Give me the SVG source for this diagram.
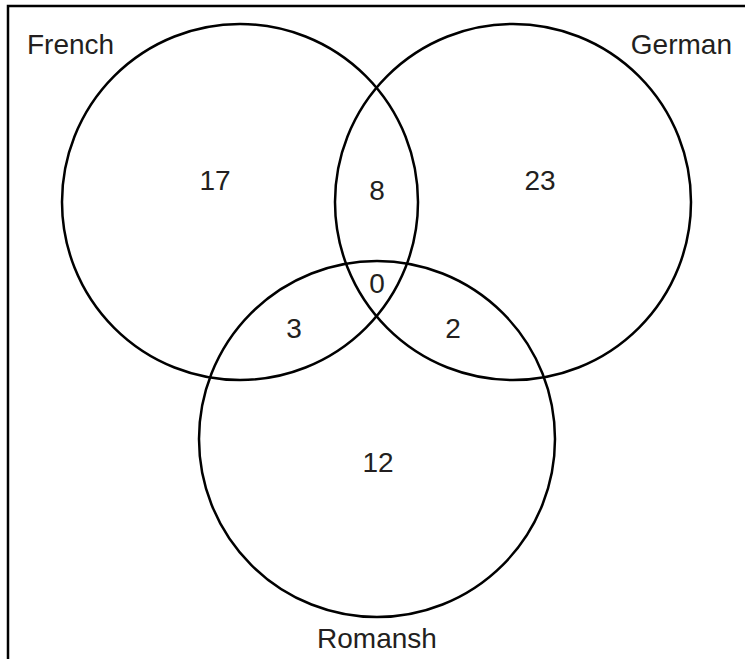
<svg xmlns="http://www.w3.org/2000/svg" width="745" height="659" viewBox="0 0 745 659">
<style>
.c{fill:none;stroke:#000;stroke-width:2.5}
.t{font-family:"Liberation Sans",Arial,sans-serif;font-size:28px;fill:#231f20}
.m{text-anchor:middle}
</style>
<rect x="0" y="0" width="745" height="659" fill="#fff"/>
<path d="M8,662 V6 H748" fill="none" stroke="#000" stroke-width="2.5"/>
<g id="french"><circle class="c" cx="240" cy="202" r="178"/><text class="t" x="27" y="54">French</text></g>
<g id="german"><circle class="c" cx="513" cy="202" r="178"/><text class="t" x="732" y="54" text-anchor="end">German</text></g>
<g id="romansh"><circle class="c" cx="377" cy="439" r="178"/><text class="t m" x="377" y="648">Romansh</text></g>
<g id="counts">
<text class="t m" x="215" y="190">17</text>
<text class="t m" x="377" y="200">8</text>
<text class="t m" x="540" y="190">23</text>
<text class="t m" x="377" y="293">0</text>
<text class="t m" x="294" y="338">3</text>
<text class="t m" x="453" y="338">2</text>
<text class="t m" x="378" y="472">12</text>
</g>
</svg>
